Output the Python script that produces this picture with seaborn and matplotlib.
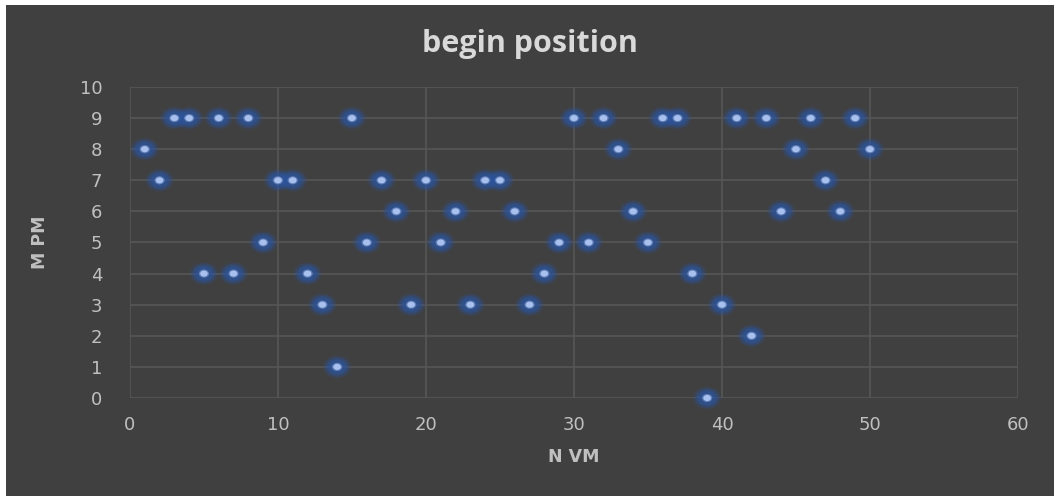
import matplotlib
matplotlib.use("Agg")
import matplotlib.pyplot as plt
import seaborn as sns
import pandas as pd
from matplotlib.patches import Rectangle
from matplotlib.path import Path
from matplotlib.transforms import Affine2D

# Data
n_vm = list(range(1, 51))
m_pm = [8, 7, 9, 9, 4, 9, 4, 9, 5, 7,
        7, 4, 3, 1, 9, 5, 7, 6, 3, 7,
        5, 6, 3, 7, 7, 6, 3, 4, 5, 9,
        5, 9, 8, 6, 5, 9, 9, 4, 0, 3,
        9, 2, 9, 6, 8, 9, 7, 6, 9, 8]
x_ticks = [0, 10, 20, 30, 40, 50, 60]
y_ticks = list(range(0, 11))

df = pd.DataFrame({"N VM": n_vm, "M PM": m_pm})

BG = "#404040"
GRID = "#585858"
TEXT = "#c0c0c0"

sns.set_theme(style="dark")
plt.rcParams["font.family"] = ["DejaVu Sans"]

fig = plt.figure(figsize=(10.54, 4.96), dpi=100, facecolor=BG)
ax = fig.add_axes([0.1233, 0.1976, 0.8425, 0.627])
ax.set_facecolor(BG)

# slightly wide oval marker
oval = Path.unit_circle().transformed(Affine2D().scale(1.25, 1.0))

# soft glow layers beneath each point
for s, a in [(430, 0.14), (330, 0.24), (240, 0.34), (160, 0.45)]:
    sns.scatterplot(data=df, x="N VM", y="M PM", ax=ax, s=s, color="#2c55a0",
                    marker=oval, alpha=a, edgecolor="none", legend=False,
                    zorder=3, clip_on=False)
sns.scatterplot(data=df, x="N VM", y="M PM", ax=ax, s=55, color="#7d9ad4",
                marker=oval, alpha=0.6, edgecolor="none", legend=False,
                zorder=4, clip_on=False)
sns.scatterplot(data=df, x="N VM", y="M PM", ax=ax, s=30, color="#a8c0ee",
                marker=oval, edgecolor="none", legend=False, zorder=5,
                clip_on=False)

ax.set_xlim(0, 60)
ax.set_ylim(0, 10)
ax.set_xticks(x_ticks)
ax.set_yticks(y_ticks)
ax.grid(True, color=GRID, linewidth=1.1)
ax.set_axisbelow(True)
for sp in ax.spines.values():
    sp.set_visible(False)

ax.tick_params(axis="both", length=0, colors=TEXT, labelsize=13)
ax.tick_params(axis="x", pad=13)
ax.tick_params(axis="y", pad=20)

ax.set_xlabel("N VM", color=TEXT, fontsize=12.5, fontweight="bold", labelpad=10)
ax.set_ylabel("M PM", color=TEXT, fontsize=12.5, fontweight="bold", labelpad=22)

fig.text(0.503, 0.912, "begin position", ha="center", va="center",
         color="#d9d9d9", fontsize=22, fontweight="bold",
         family=["Open Sans", "DejaVu Sans"])

# thin white margin along the top and left edges
fig.patches.append(Rectangle((0, 0.99), 1, 0.01, transform=fig.transFigure,
                             facecolor="white", edgecolor="none", zorder=10))
fig.patches.append(Rectangle((0, 0), 0.0057, 1, transform=fig.transFigure,
                             facecolor="white", edgecolor="none", zorder=10))

fig.savefig("out.png", dpi=100, facecolor=BG)
